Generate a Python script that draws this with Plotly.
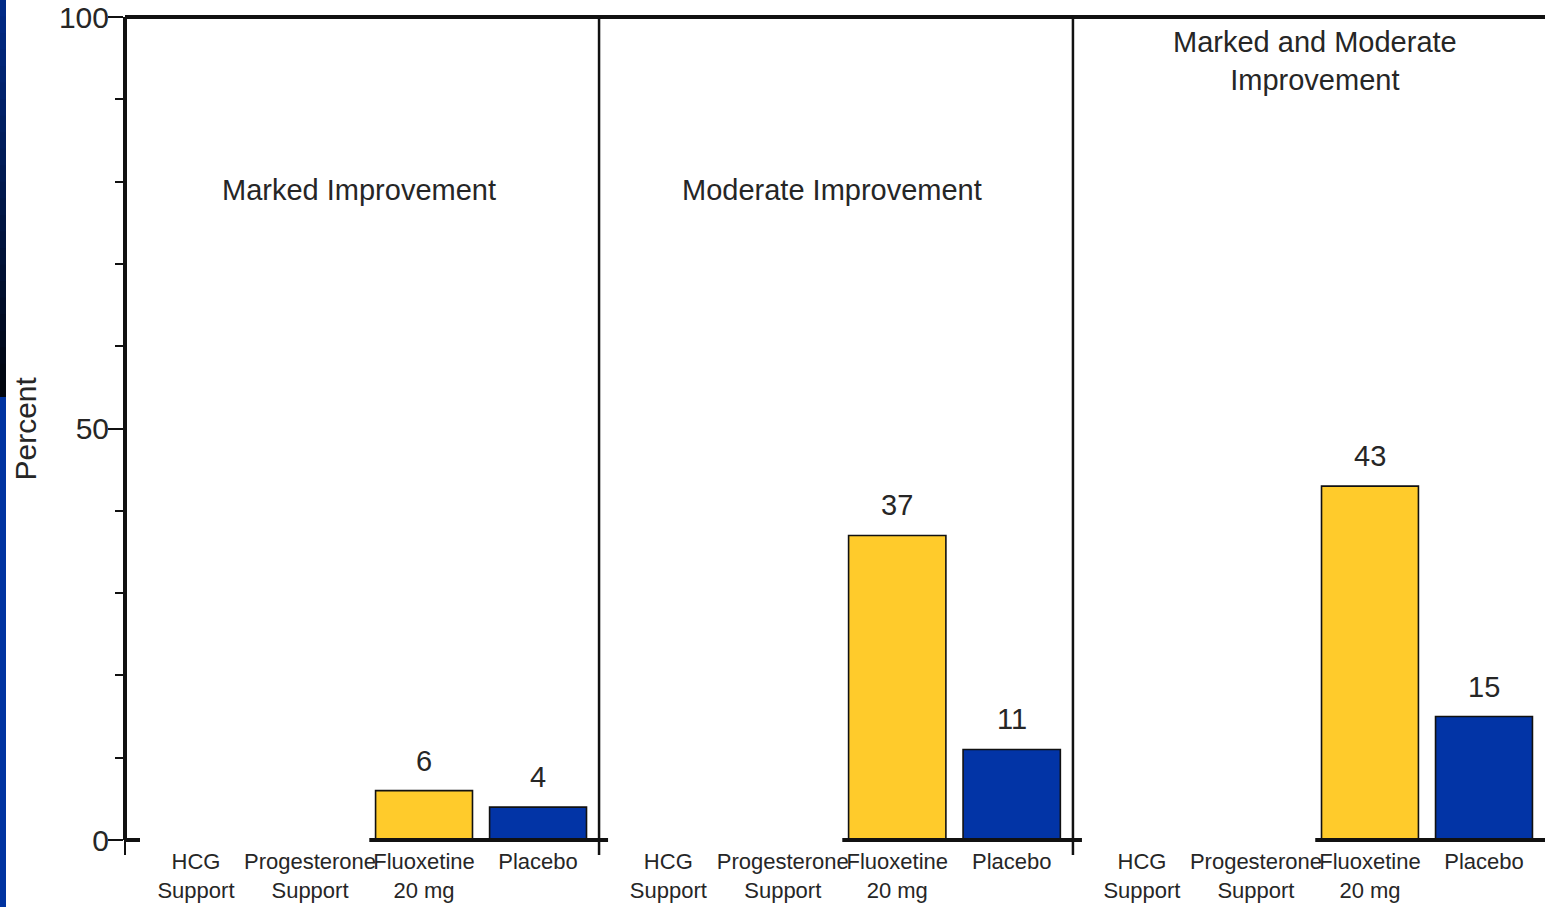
import plotly.graph_objects as go

# ---- data -------------------------------------------------------------
categories = ["HCG<br>Support", "Progesterone<br>Support", "Fluoxetine<br>20 mg", "Placebo"]
panel_titles = ["Marked Improvement", "Moderate Improvement", "Marked and Moderate<br>Improvement"]
fluoxetine_pct = [6, 37, 43]
placebo_pct = [4, 11, 15]
hcg_pct = [None, None, None]
progesterone_pct = [None, None, None]

y_ticks = [0, 50, 100]

# ---- styling ----------------------------------------------------------
W, H = 1545, 907
ML, MR, MT, MB = 127, 0, 17, 67
PW, PH = W - ML - MR, H - MT - MB
FONT = "Liberation Sans, Arial, Helvetica, sans-serif"
TXT = "#262626"
YELLOW = "#FFCB2B"
BLUE = "#0234A6"
bar_colors = ["rgba(0,0,0,0)", "rgba(0,0,0,0)", YELLOW, BLUE]

domains = [(0.0, 0.3329), (0.3329, 0.6671), (0.6671, 1.0)]
x_range = [-0.605, 3.535]
bar_width = 0.85
title_y = [79.0, 79.0, 94.6]


def to_paper_x(panel, v):
    d0, d1 = domains[panel]
    return d0 + (v - x_range[0]) / (x_range[1] - x_range[0]) * (d1 - d0)


fig = go.Figure()

for i in range(3):
    ax = "" if i == 0 else str(i + 1)
    values = [hcg_pct[i], progesterone_pct[i], fluoxetine_pct[i], placebo_pct[i]]
    fig.add_trace(go.Bar(
        x=categories, y=values,
        xaxis="x" + ax, yaxis="y",
        width=bar_width,
        marker=dict(color=bar_colors, line=dict(color="#111", width=1.6)),
        hoverinfo="skip", showlegend=False,
    ))
    # value labels above the drawn bars
    for cat, v in zip(categories, values):
        if v is None:
            continue
        fig.add_annotation(
            x=cat, y=v, xref="x" + ax, yref="y",
            text=str(v), showarrow=False, yanchor="bottom", yshift=12,
            font=dict(family=FONT, size=29, color=TXT),
        )
    # panel titles
    centre = (domains[i][0] + domains[i][1]) / 2
    fig.add_annotation(
        x=centre + (0.004 if i == 2 else -0.003), y=title_y[i],
        xref="paper", yref="y",
        text=panel_titles[i], showarrow=False, xanchor="center", yanchor="middle",
        font=dict(family=FONT, size=29, color=TXT),
    )

# y-axis title placed beside the tick labels
fig.add_annotation(
    x=-102 / PW, y=50, xref="paper", yref="y", text="Percent", textangle=-90,
    showarrow=False, xanchor="center", yanchor="middle",
    font=dict(family=FONT, size=30, color=TXT),
)

xaxis_common = dict(
    type="category", range=x_range, showline=False, showgrid=False,
    zeroline=False, ticks="", tickangle=0, automargin=False,
    tickfont=dict(family=FONT, size=22, color=TXT),
    ticklabelstandoff=6, fixedrange=True,
)
fig.update_layout(
    xaxis=dict(domain=domains[0], anchor="y", **xaxis_common),
    xaxis2=dict(domain=domains[1], anchor="y", **xaxis_common),
    xaxis3=dict(domain=domains[2], anchor="y", **xaxis_common),
    yaxis=dict(
        range=[0, 100], tickvals=y_ticks, ticks="outside", ticklen=15,
        tickwidth=2, tickcolor="#111",
        minor=dict(dtick=10, tick0=0, ticks="outside", ticklen=8,
                   tickwidth=2, tickcolor="#111"),
        showline=True, linewidth=4, linecolor="#111",
        showgrid=False, zeroline=False, automargin=False,
        ticklabelstandoff=-7,
        tickfont=dict(family=FONT, size=30, color=TXT),
    ),
    width=W, height=H,
    margin=dict(l=ML, r=MR, t=MT, b=MB, autoexpand=False),
    paper_bgcolor="white", plot_bgcolor="white",
    bargap=0.15,
)

shapes = []
stub = -15 / PH  # short extension of the axis and dividers below zero

# slide edge band on the far left
band_x0, band_x1 = -ML / PW, (6 - ML) / PW
split_px = 397
n_steps = 24
top_rgb, bot_rgb = (0, 42, 134), (0, 5, 14)
for s in range(n_steps):
    t = s / (n_steps - 1)
    c = tuple(round(top_rgb[k] + (bot_rgb[k] - top_rgb[k]) * t) for k in range(3))
    ya = s * split_px / n_steps
    yb = (s + 1) * split_px / n_steps + 1.5
    shapes.append(dict(type="rect", xref="paper", yref="paper",
                       x0=band_x0, x1=band_x1,
                       y0=1 - (ya - MT) / PH, y1=1 - (yb - MT) / PH,
                       line=dict(width=0), fillcolor="rgb(%d,%d,%d)" % c))
shapes.append(dict(type="rect", xref="paper", yref="paper", x0=band_x0, x1=band_x1,
                   y0=1 - (split_px - MT) / PH, y1=1 - (H - MT) / PH,
                   line=dict(width=0), fillcolor="#0033A0"))

# frame: top rule and panel dividers
shapes.append(dict(type="line", xref="paper", yref="paper", x0=-2 / PW, x1=1.0,
                   y0=1.0, y1=1.0, line=dict(color="#111", width=4)))
for i in (1, 2):
    shapes.append(dict(type="line", xref="paper", yref="paper",
                       x0=domains[i][0], x1=domains[i][0], y0=1.0, y1=stub,
                       line=dict(color="#111", width=2.5)))
shapes.append(dict(type="line", xref="paper", yref="paper", x0=-2 / PW, x1=-2 / PW,
                   y0=0, y1=stub, line=dict(color="#111", width=2)))

# baselines under the plotted bars
shapes.append(dict(type="line", xref="paper", yref="paper", x0=-2 / PW, x1=13 / PW,
                   y0=0, y1=0, line=dict(color="#111", width=4)))
for i in range(3):
    x0 = to_paper_x(i, 2 - 0.48)
    x1 = min(domains[i][1] + 9 / PW, 1.0)
    shapes.append(dict(type="line", xref="paper", yref="paper", x0=x0, x1=x1,
                       y0=0, y1=0, line=dict(color="#111", width=4)))

fig.update_layout(shapes=shapes)

fig.write_html("out.html")
